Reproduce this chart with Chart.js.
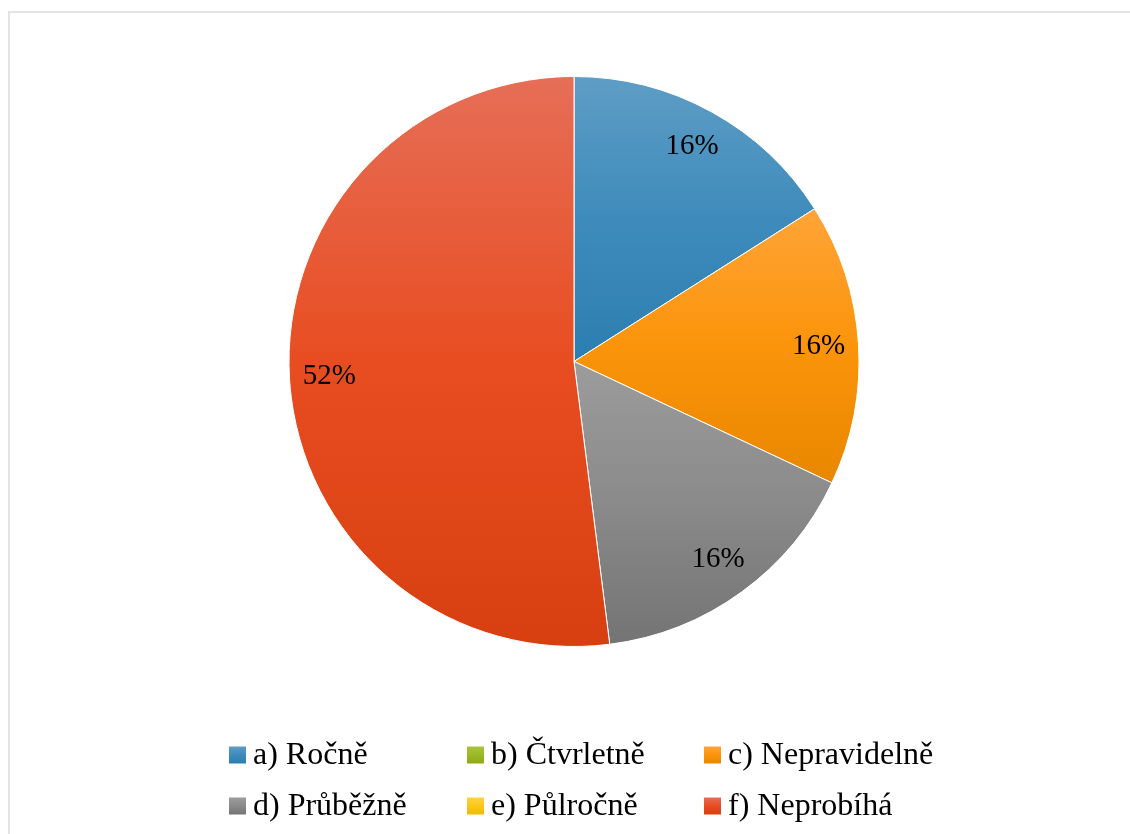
<!DOCTYPE html>
<html>
<head>
<meta charset="utf-8">
<script src="https://cdn.jsdelivr.net/npm/chart.js@4/dist/chart.umd.min.js"></script>
<style>
  html, body { margin: 0; padding: 0; background: #ffffff; }
  #wrap { position: relative; width: 1130px; height: 834px; }
  canvas { display: block; }
</style>
</head>
<body>
<div id="wrap"><canvas id="c" width="1130" height="834"></canvas></div>
<script>
// Frequency categories and their shares (percent)
const categories = ['a) Ročně', 'b) Čtvrletně', 'c) Nepravidelně', 'd) Průběžně', 'e) Půlročně', 'f) Neprobíhá'];
const shares = [16, 0, 16, 16, 0, 52];

// Slice fills: light tint at the top, base colour in the middle, shade at the bottom
const topColors = ['#5e9dc5', '#a9c53f', '#ffa438', '#9c9c9c', '#ffd43c', '#e66e57'];
const midColors = ['#3e8bbb', '#9bb826', '#fb940a', '#8a8a8a', '#f9c71c', '#e84d21'];
const bottomColors = ['#2c7eb0', '#8eab10', '#e88700', '#747474', '#f2bb00', '#d73f10'];

const serif = '"Liberation Serif", "Times New Roman", serif';

// Vertical extent of a pie sector (center + arc)
function sectorYRange(cy, r, a0, a1) {
  let ys = [cy, cy + r * Math.sin(a0), cy + r * Math.sin(a1)];
  const twoPi = Math.PI * 2;
  [Math.PI / 2, -Math.PI / 2].forEach(function (t) {
    let k = Math.ceil((a0 - t) / twoPi);
    if (t + k * twoPi <= a1) ys.push(cy + r * Math.sin(t));
  });
  return [Math.min.apply(null, ys), Math.max.apply(null, ys)];
}

function makeGradient(ctx, y0, y1, i) {
  const g = ctx.createLinearGradient(0, y0, 0, y1);
  g.addColorStop(0, topColors[i]);
  g.addColorStop(0.5, midColors[i]);
  g.addColorStop(1, bottomColors[i]);
  return g;
}

// Gradient fill per slice, evaluated after layout so element geometry is known
const sliceGradients = {
  id: 'sliceGradients',
  beforeDatasetsDraw(chart) {
    const ctx = chart.ctx;
    const meta = chart.getDatasetMeta(0);
    meta.data.forEach(function (arc, i) {
      const p = arc.getProps(['x', 'y', 'startAngle', 'endAngle', 'outerRadius'], true);
      if (p.endAngle - p.startAngle <= 0) return;
      const yr = sectorYRange(p.y, p.outerRadius, p.startAngle, p.endAngle);
      arc.options.backgroundColor = makeGradient(ctx, yr[0], yr[1], i);
    });
  }
};

// Percentage labels inside each visible slice
const sliceLabels = {
  id: 'sliceLabels',
  afterDatasetsDraw(chart) {
    const ctx = chart.ctx;
    const meta = chart.getDatasetMeta(0);
    const data = chart.data.datasets[0].data;
    ctx.save();
    ctx.font = '29px ' + serif;
    ctx.fillStyle = '#000000';
    ctx.textAlign = 'center';
    ctx.textBaseline = 'middle';
    meta.data.forEach(function (arc, i) {
      if (!data[i]) return;
      const p = arc.getProps(['x', 'y', 'startAngle', 'endAngle', 'outerRadius'], true);
      const mid = (p.startAngle + p.endAngle) / 2;
      const r = p.outerRadius * 0.86;
      ctx.fillText(data[i] + '%', p.x + r * Math.cos(mid), p.y + r * Math.sin(mid));
    });
    ctx.restore();
  }
};

// Frame and a three-column legend under the pie
const frameAndLegend = {
  id: 'frameAndLegend',
  beforeDraw(chart) {
    const ctx = chart.ctx;
    ctx.save();
    ctx.strokeStyle = '#e4e4e4';
    ctx.lineWidth = 2;
    ctx.strokeRect(9, 12, chart.width + 20, chart.height + 20);
    ctx.restore();
  },
  afterDraw(chart) {
    const ctx = chart.ctx;
    const labels = chart.data.labels;
    const colX = [229, 467, 704];
    const rowY = [755, 806];
    const box = 17;
    ctx.save();
    ctx.font = '32px ' + serif;
    ctx.textBaseline = 'middle';
    labels.forEach(function (lab, i) {
      const x = colX[i % 3];
      const y = rowY[Math.floor(i / 3)];
      ctx.fillStyle = makeGradient(ctx, y - box / 2, y + box / 2, i);
      ctx.fillRect(x, y - box / 2, box, box);
      ctx.fillStyle = '#000000';
      ctx.fillText(lab, x + box + 7, y + 1);
    });
    ctx.restore();
  }
};

new Chart(document.getElementById('c'), {
  type: 'pie',
  data: {
    labels: categories,
    datasets: [{
      data: shares,
      backgroundColor: midColors,
      borderColor: '#ffffff',
      borderWidth: 1
    }]
  },
  options: {
    responsive: false,
    animation: false,
    layout: { padding: { top: 76, bottom: 187, left: 18, right: 0 } },
    plugins: {
      legend: { display: false },
      tooltip: { enabled: false }
    }
  },
  plugins: [sliceGradients, sliceLabels, frameAndLegend]
});
</script>
</body>
</html>
